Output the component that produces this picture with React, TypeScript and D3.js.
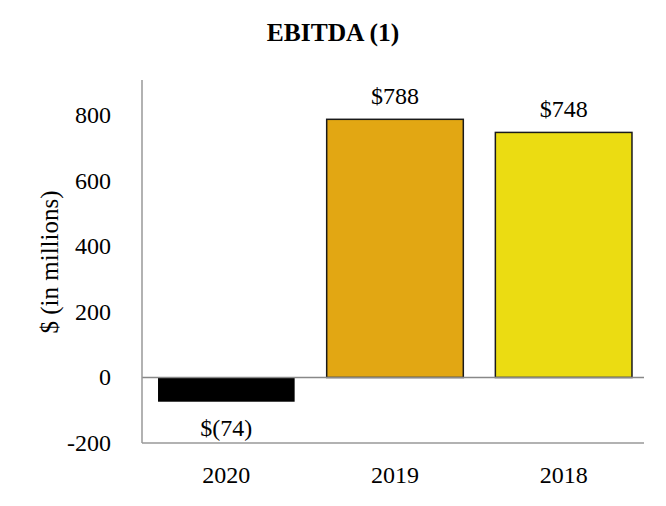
import React from "react";
import * as d3 from "d3";

const categories = ["2020", "2019", "2018"];
const values = [-74, 788, 748];
const valueLabels = ["$(74)", "$788", "$748"];
const barColors = ["#000000", "#E2A713", "#EBDC12"];
const yTicks = [-200, 0, 200, 400, 600, 800];
const title = "EBITDA (1)";
const yTitle = "$ (in millions)";

export default function App() {
  const W = 666, H = 506;
  const left = 142, right = 644, top = 80, bottom = 443;
  const y = d3.scaleLinear().domain([-200, 908]).range([bottom, top]);
  const x = d3.scaleBand().domain(categories).range([left, 648]).paddingInner(0.19).paddingOuter(0.095);
  const font = "'Liberation Serif', 'Times New Roman', serif";
  const fs = 24;
  return (
    <svg width={W} height={H} style={{ position: "absolute", left: 0, top: 0, background: "#fff" }}>
      <text x={333} y={41} textAnchor="middle" fontFamily={font} fontWeight="bold" fontSize={25.5}>{title}</text>
      <text transform={`translate(58,262) rotate(-90)`} textAnchor="middle" fontFamily={font} fontSize={25}>{yTitle}</text>
      {yTicks.map(t => (
        <text key={t} x={111} y={y(t) + 8} textAnchor="end" fontFamily={font} fontSize={fs}>{t}</text>
      ))}
      {categories.map((c, i) => {
        const v = values[i];
        const x0 = x(c)!;
        const y0 = y(Math.max(0, v));
        const h = Math.abs(y(v) - y(0));
        return (
          <g key={c}>
            <rect x={x0} y={y0} width={x.bandwidth()} height={h} fill={barColors[i]}
              stroke={i === 0 ? "none" : "#1a1a1a"} strokeWidth={1.5} />
            <text x={x0 + x.bandwidth() / 2} y={v >= 0 ? y(v) - 15 : y(v) + 34} textAnchor="middle"
              fontFamily={font} fontSize={fs}>{valueLabels[i]}</text>
            <text x={x0 + x.bandwidth() / 2} y={483} textAnchor="middle" fontFamily={font} fontSize={fs}>{c}</text>
          </g>
        );
      })}
      <line x1={left} x2={right} y1={y(0)} y2={y(0)} stroke="#888" strokeWidth={1.5} />
      <line x1={left} x2={left} y1={top} y2={bottom} stroke="#999" strokeWidth={1.5} />
      <line x1={left} x2={right} y1={bottom} y2={bottom} stroke="#999" strokeWidth={1.5} />
    </svg>
  );
}
